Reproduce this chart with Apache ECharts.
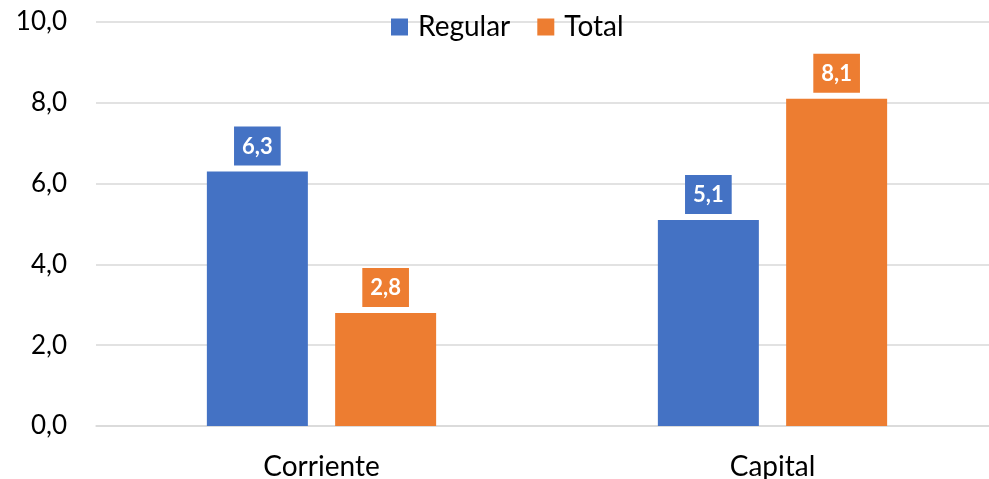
<!DOCTYPE html>
<html>
<head>
<meta charset="utf-8">
<script src="https://cdn.jsdelivr.net/npm/echarts@6/dist/echarts.min.js"></script>
<style>
  html, body { margin: 0; padding: 0; background: #fff; }
  #chart { width: 989px; height: 479px; }
</style>
</head>
<body>
<div id="chart"></div>
<script>
var categories = ["Corriente", "Capital"];
var regular = [6.3, 5.1];
var total = [2.8, 8.1];
var yTicks = [0, 2, 4, 6, 8, 10];

function fmt(v){
    return Number(v).toFixed(1).replace(".", ",");
}

var font = "Lato, 'Open Sans', sans-serif";

function labelFor(color){
    return {
        show: true,
        position: "top",
        distance: 6,
        formatter: function(p){ return fmt(p.value); },
        color: "#fff",
        fontWeight: "bold",
        fontSize: 22,
        fontFamily: font,
        backgroundColor: color,
        padding: [9, 8, 8, 8]
    };
}

var myChart = echarts.init(document.getElementById("chart"));
myChart.setOption({
    animation: false,
    textStyle: { fontFamily: font },
    legend: {
        top: 8,
        left: 386,
        itemWidth: 17,
        itemHeight: 17,
        itemGap: 27,
        icon: "rect",
        textStyle: { fontSize: 28, color: "#000", fontFamily: font, padding: [0, 0, 0, 5] },
        data: ["Regular", "Total"]
    },
    grid: { left: 96, top: 22, right: -9, bottom: 53, containLabel: false, outerBoundsMode: "none" },
    xAxis: {
        type: "category",
        data: categories,
        axisLine: { show: true, lineStyle: { color: "#d9d9d9", width: 1.5 } },
        axisTick: { show: false },
        axisLabel: { fontSize: 28, color: "#000", margin: 27, fontFamily: font }
    },
    yAxis: {
        type: "value",
        min: yTicks[0],
        max: yTicks[yTicks.length - 1],
        interval: 2,
        axisLine: { show: false },
        axisTick: { show: false },
        splitLine: { lineStyle: { color: "#d9d9d9", width: 1.5 } },
        axisLabel: {
            fontSize: 26, color: "#000", margin: 29, fontFamily: font,
            formatter: function(v){ return fmt(v); }
        }
    },
    series: [
        {
            name: "Regular",
            type: "bar",
            data: regular,
            barWidth: 101,
            barGap: "27%",
            itemStyle: { color: "#4472C4" },
            label: labelFor("#4472C4")
        },
        {
            name: "Total",
            type: "bar",
            data: total,
            barWidth: 101,
            barGap: "27%",
            itemStyle: { color: "#ED7D31" },
            label: labelFor("#ED7D31")
        }
    ]
});
</script>
</body>
</html>
